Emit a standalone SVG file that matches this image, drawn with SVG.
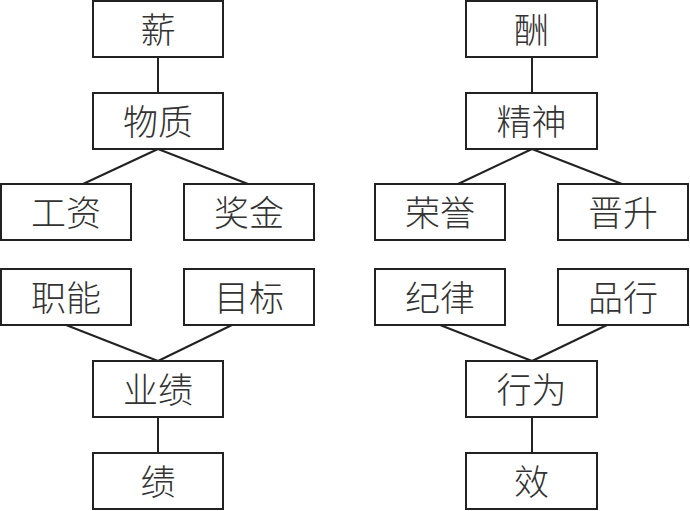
<svg xmlns="http://www.w3.org/2000/svg" width="690" height="511" viewBox="0 0 690 511">
<style>
rect{fill:#fff;stroke:#222;stroke-width:2}
text{font-family:"Noto Sans CJK SC","Noto Sans CJK TC",sans-serif;font-size:35px;fill:#333;text-anchor:middle;dominant-baseline:central;font-weight:300}
#connectors line{stroke:#222;stroke-width:2}
</style>
<rect x="0" y="0" width="690" height="511" style="fill:#fff;stroke:none"/>
<g id="connectors">
<line x1="158" y1="57" x2="158" y2="93"/>
<line x1="158" y1="149" x2="83" y2="184"/>
<line x1="158" y1="149" x2="248" y2="184"/>
<line x1="66" y1="325" x2="158" y2="361"/>
<line x1="232" y1="325" x2="158" y2="361"/>
<line x1="158" y1="417" x2="158" y2="453"/>
<line x1="532" y1="57" x2="532" y2="93"/>
<line x1="532" y1="149" x2="458" y2="184"/>
<line x1="532" y1="149" x2="622" y2="184"/>
<line x1="440" y1="325" x2="532" y2="361"/>
<line x1="607" y1="325" x2="532" y2="361"/>
<line x1="532" y1="417" x2="532" y2="453"/>
</g>
<g id="xin"><rect x="93" y="1" width="130" height="56"/><text x="158" y="27">薪</text></g>
<g id="wuzhi"><rect x="93" y="93" width="130" height="56"/><text x="158" y="119">物质</text></g>
<g id="gongzi"><rect x="1" y="184" width="130" height="56"/><text x="66" y="210">工资</text></g>
<g id="jiangjin"><rect x="184" y="184" width="130" height="56"/><text x="249" y="210">奖金</text></g>
<g id="zhineng"><rect x="1" y="269" width="130" height="56"/><text x="66" y="295">职能</text></g>
<g id="mubiao"><rect x="184" y="269" width="130" height="56"/><text x="249" y="295">目标</text></g>
<g id="yeji"><rect x="93" y="361" width="130" height="56"/><text x="158" y="387">业绩</text></g>
<g id="ji"><rect x="93" y="453" width="130" height="56"/><text x="158" y="479">绩</text></g>
<g id="chou"><rect x="466" y="1" width="131" height="56"/><text x="531.5" y="27">酬</text></g>
<g id="jingshen"><rect x="466" y="93" width="131" height="56"/><text x="531.5" y="119">精神</text></g>
<g id="rongyu"><rect x="375" y="184" width="130" height="56"/><text x="440" y="210">荣誉</text></g>
<g id="jinsheng"><rect x="558" y="184" width="130" height="56"/><text x="623" y="210">晋升</text></g>
<g id="jilv"><rect x="375" y="269" width="130" height="56"/><text x="440" y="295">纪律</text></g>
<g id="pinxing"><rect x="558" y="269" width="130" height="56"/><text x="623" y="295">品行</text></g>
<g id="xingwei"><rect x="466" y="361" width="131" height="56"/><text x="531.5" y="387">行为</text></g>
<g id="xiao"><rect x="466" y="453" width="131" height="56"/><text x="531.5" y="479">效</text></g>
</svg>
